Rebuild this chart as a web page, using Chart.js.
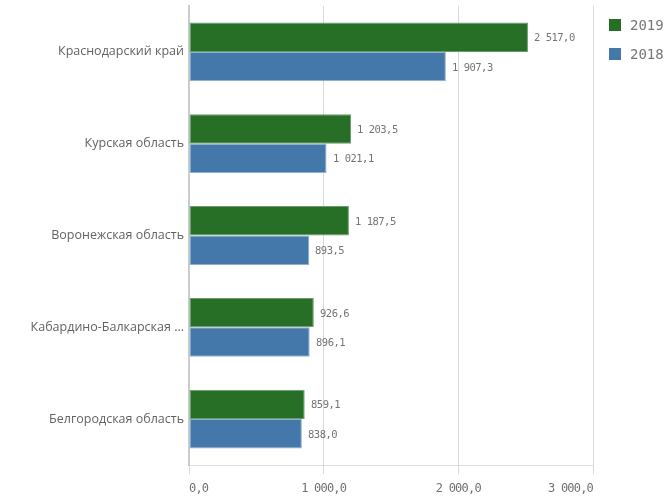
<!DOCTYPE html>
<html><head><meta charset="utf-8">
<script src="https://cdn.jsdelivr.net/npm/chart.js@4/dist/chart.umd.min.js"></script>
<style>html,body{margin:0;padding:0;background:#fff}#w{width:668px;height:498px}</style>
</head><body><div id="w"><canvas id="c" width="668" height="498"></canvas></div>
<script>
const categories = ["Краснодарский край","Курская область","Воронежская область","Кабардино-Балкарская ...","Белгородская область"];
const series2019 = [2517.0, 1203.5, 1187.5, 926.6, 859.1];
const series2018 = [1907.3, 1021.1, 893.5, 896.1, 838.0];
const seriesNames = ["2019","2018"];
const xTicks = [0, 1000, 2000, 3000];

function fmt(v){
  const s = Math.abs(v).toFixed(1);
  let [i,d] = s.split('.');
  i = i.replace(/\B(?=(\d{3})+(?!\d))/g, ' ');
  return (v<0?'-':'') + i + ',' + d;
}

const spacing = {
  id:'spacing',
  afterLayout(chart){
    const s = chart.scales.x;
    if (s && !s._wrappedLS){
      const orig = s.drawLabels.bind(s);
      s.drawLabels = function(ca){
        const c = this.ctx; c.save(); c.letterSpacing = '-0.8px'; orig(ca); c.restore();
      };
      s._wrappedLS = true;
    }
  }
};
const valueLabels = {
  id:'valueLabels',
  afterDatasetsDraw(chart){
    const ctx = chart.ctx;
    ctx.save();
    ctx.letterSpacing = '-0.5px';
    ctx.font = '10.5px "DejaVu Sans Mono"';
    ctx.fillStyle = '#757575';
    ctx.textBaseline = 'middle';
    ctx.textAlign = 'left';
    chart.data.datasets.forEach((ds,di)=>{
      chart.getDatasetMeta(di).data.forEach((bar,i)=>{
        ctx.fillText(fmt(ds.data[i]), Math.round(bar.x + 6), Math.round(bar.y + 1));
      });
    });
    ctx.restore();
  }
};
const customLegend = {
  id:'customLegend',
  afterDraw(chart){
    const ctx = chart.ctx;
    ctx.save();
    ctx.font = '14px "DejaVu Sans Mono"';
    ctx.textBaseline = 'middle';
    chart.data.datasets.forEach((ds,di)=>{
      const y = 25 + di*29;
      ctx.fillStyle = ds.backgroundColor;
      ctx.fillRect(609, y-6, 12, 12);
      ctx.fillStyle = '#777777';
      ctx.fillText(ds.label, 630, y+1);
    });
    ctx.restore();
  }
};

new Chart(document.getElementById('c'), {
  type:'bar',
  data:{
    labels: categories,
    datasets:[
      {label: seriesNames[0], data: series2019, backgroundColor:'#276e27', borderColor:'#6a9c6a', borderWidth:1, borderSkipped:false},
      {label: seriesNames[1], data: series2018, backgroundColor:'#4477aa', borderColor:'#8eb0d2', borderWidth:1, borderSkipped:false}
    ]
  },
  options:{
    indexAxis:'y',
    responsive:false,
    animation:false,
    devicePixelRatio:1,
    layout:{padding:{top:6, right:75, left:0, bottom:0}},
    categoryPercentage:0.64,
    barPercentage:1.0,
    plugins:{legend:{display:false}, tooltip:{enabled:false}},
    scales:{
      x:{
        min:0, max:3000,
        afterBuildTicks(scale){ scale.ticks = xTicks.map(v=>({value:v})); },
        afterFit(scale){ scale.height = 33; },
        grid:{color:'#d9d9d9', lineWidth:1, tickLength:9, drawOnChartArea:true},
        border:{display:true, color:'#dddddd', width:1},
        ticks:{align:'inner', padding:8, color:'#707070', font:{family:'"DejaVu Sans Mono"', size:12}, callback:(v)=>fmt(v), maxRotation:0}
      },
      y:{
        afterFit(scale){ scale.width = 189; scale.paddingTop = 0; scale.paddingBottom = 0; },
        grid:{display:false, drawTicks:false},
        border:{display:true, color:'#cccccc', width:2},
        ticks:{padding:5, color:'#636363', font:{family:'"Open Sans"', size:12.5}}
      }
    }
  },
  plugins:[spacing, valueLabels, customLegend]
});
</script></body></html>
